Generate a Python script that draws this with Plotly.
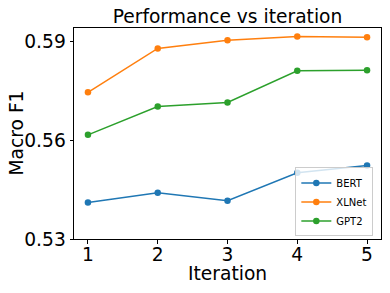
import plotly.graph_objects as go

iterations = [1, 2, 3, 4, 5]
bert = [0.5411, 0.5440, 0.5416, 0.5501, 0.5523]
xlnet = [0.5745, 0.5878, 0.5903, 0.5914, 0.5912]
gpt2 = [0.5616, 0.5702, 0.5714, 0.5810, 0.5812]
y_ticks = [0.53, 0.56, 0.59]
y_tick_labels = ["0.53", "0.56", "0.59"]

series = [("BERT", bert, "#1f77b4"), ("XLNet", xlnet, "#ff7f0e"), ("GPT2", gpt2, "#2ca02c")]

fig = go.Figure()
for name, vals, color in series:
    fig.add_trace(go.Scatter(x=iterations, y=vals, name=name, mode="lines+markers",
                             line=dict(color=color, width=1.5),
                             marker=dict(color=color, size=6.5)))

W, H = 390, 293
L, R, T, B = 74, 9, 28, 54
font = "DejaVu Sans, sans-serif"
fs = 18.67
fig.update_layout(
    width=W, height=H,
    margin=dict(l=L, r=R, t=T, b=B, autoexpand=False),
    paper_bgcolor="white", plot_bgcolor="white",
    font=dict(family=font, color="black"),
    title=dict(text="Performance vs iteration", x=(L + W - R) / 2 / W, xanchor="center",
               y=1 - 16 / H, yanchor="middle", font=dict(size=fs)),
    showlegend=True,
    legend=dict(x=0.975, y=0.012, xanchor="right", yanchor="bottom",
                bordercolor="#cccccc", borderwidth=1, bgcolor="rgba(255,255,255,0.8)",
                font=dict(size=10), itemwidth=30, tracegroupgap=0),
    annotations=[
        dict(text="Iteration", xref="paper", yref="paper",
             x=0.5, y=-(273 - (H - B)) / (H - T - B), xanchor="center", yanchor="middle",
             showarrow=False, font=dict(size=fs)),
        dict(text="Macro F1", xref="paper", yref="paper",
             x=-(L - 16) / (W - L - R), y=0.5, xanchor="center", yanchor="middle",
             textangle=-90, showarrow=False, font=dict(size=fs)),
    ],
)
fig.update_xaxes(range=[0.8, 5.2], tickvals=iterations, ticktext=[str(i) for i in iterations],
                 showgrid=False, zeroline=False, showline=True, linecolor="black", linewidth=1,
                 mirror=True, ticks="outside", ticklen=3.5, tickcolor="black",
                 tickfont=dict(size=fs), automargin=False, ticklabelstandoff=-5)
fig.update_yaxes(range=[0.53, 0.594], tickvals=y_ticks, ticktext=y_tick_labels,
                 showgrid=False, zeroline=False, showline=True, linecolor="black", linewidth=1,
                 mirror=True, ticks="outside", ticklen=3.5, tickcolor="black",
                 tickfont=dict(size=fs), automargin=False)

fig.write_html("out.html", config={"displayModeBar": False, "staticPlot": True},
               post_script="document.body.style.margin='0';document.body.style.overflow='hidden';")
